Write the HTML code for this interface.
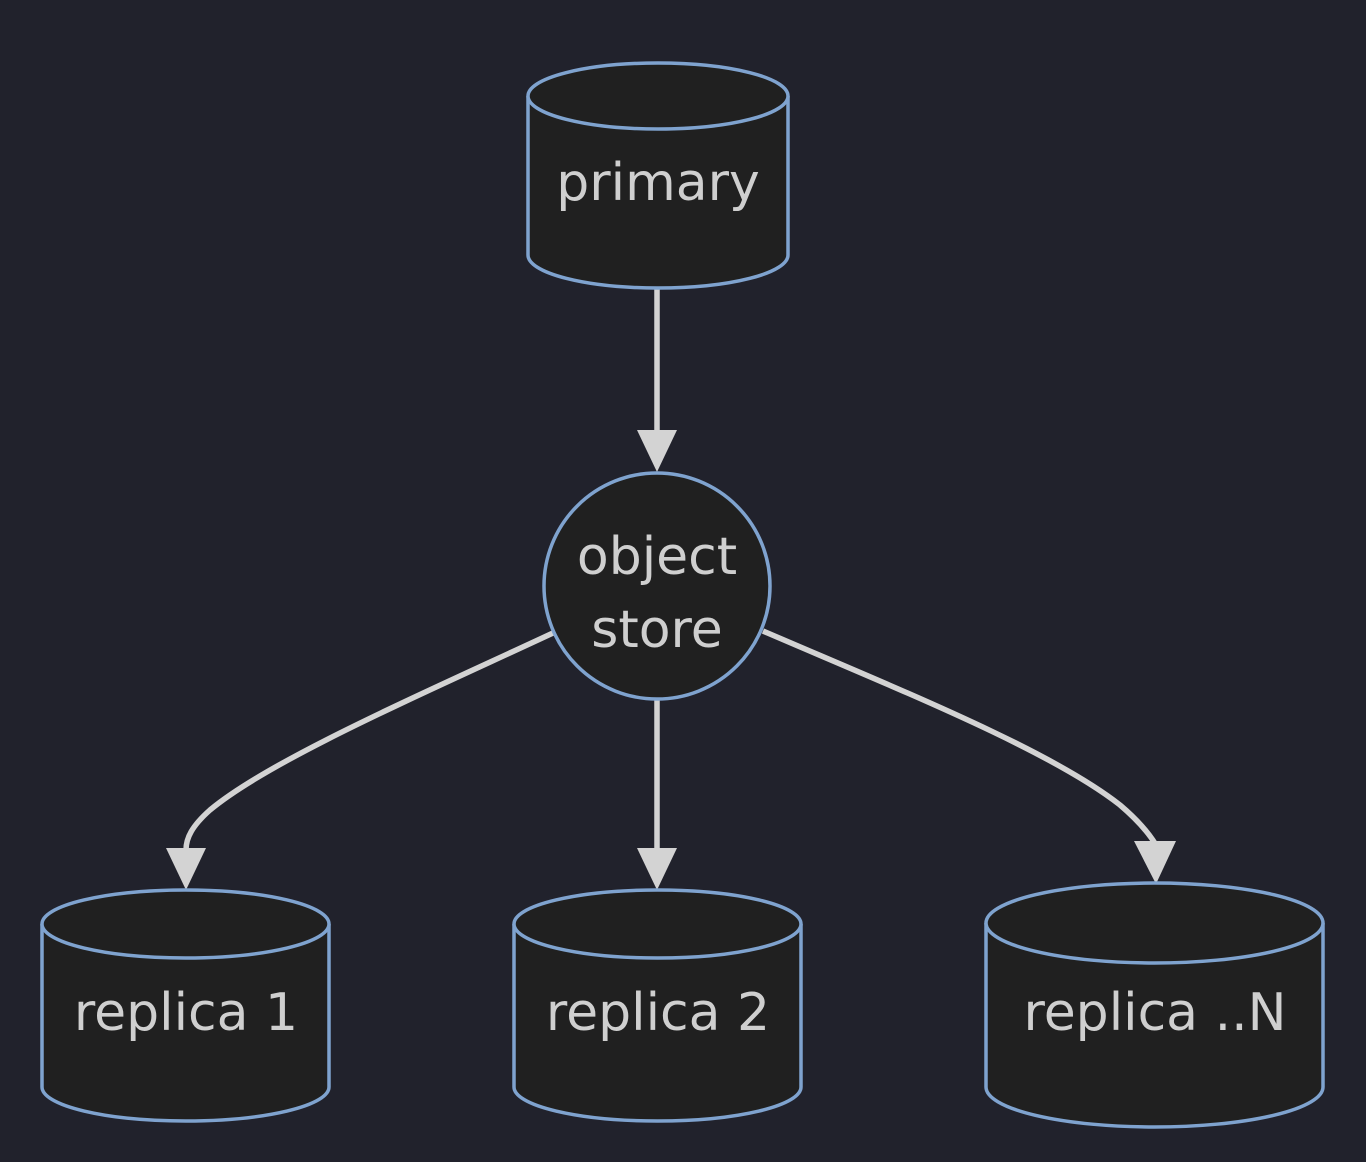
<!DOCTYPE html>
<html><head><style>
html,body{margin:0;padding:0;background:#21222c;}
svg{display:block}
text{font-family:"DejaVu Sans","Liberation Sans",sans-serif;fill:#cfcfcf;font-size:52px;text-anchor:middle}
</style></head><body>
<svg width="1366" height="1162" viewBox="0 0 1366 1162">
<rect width="1366" height="1162" fill="#21222c"/>
<g fill="none" stroke="#d3d3d3" stroke-width="5.5">
<path d="M657 288 L657 432"/>
<path d="M657 700 L657 850"/>
<path d="M553 633 C420 695 270 760 210 810 C192 826 186 838 186 850"/>
<path d="M763 631 C900 690 1050 750 1120 805 C1140 822 1150 835 1156 845"/>
</g>
<g fill="#d3d3d3">
<polygon points="637,430 677,430 657,472"/>
<polygon points="637,848 677,848 657,890"/>
<polygon points="166,848 206,848 186,890"/>
<polygon points="1134,841 1176,841 1156,884"/>
</g>
<g fill="#202020" stroke="#7fa3cf" stroke-width="3.5">
<path d="M528 96 A130 33 0 0 1 788 96 L788 255 A130 33 0 0 1 528 255 Z"/>
<path d="M528 96 A130 33 0 0 0 788 96"/>
<circle cx="657" cy="586" r="113"/>
<path d="M42 924 A143.5 34 0 0 1 329 924 L329 1087 A143.5 34 0 0 1 42 1087 Z"/>
<path d="M42 924 A143.5 34 0 0 0 329 924"/>
<path d="M514 924 A143.5 34 0 0 1 801 924 L801 1087 A143.5 34 0 0 1 514 1087 Z"/>
<path d="M514 924 A143.5 34 0 0 0 801 924"/>
<path d="M986 923 A168.5 40 0 0 1 1323 923 L1323 1087 A168.5 40 0 0 1 986 1087 Z"/>
<path d="M986 923 A168.5 40 0 0 0 1323 923"/>
</g>
<text x="658" y="200">primary</text>
<text x="657" y="574">object</text>
<text x="657" y="647">store</text>
<text x="186" y="1030">replica 1</text>
<text x="658" y="1030">replica 2</text>
<text x="1155" y="1030">replica ..N</text>
</svg>
</body></html>
